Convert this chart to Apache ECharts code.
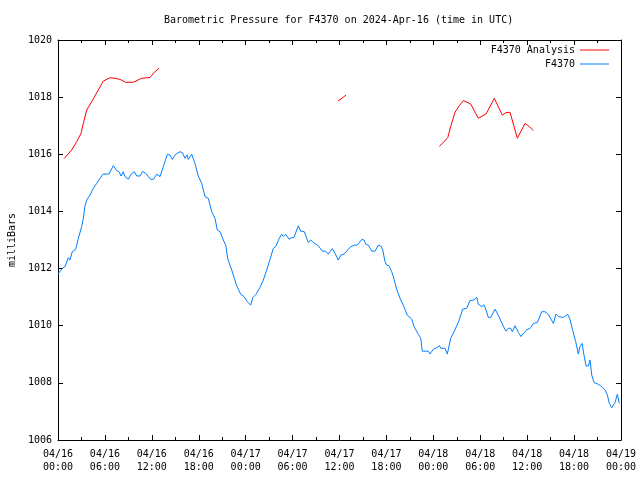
<!DOCTYPE html>
<html><head><meta charset="utf-8">
<script src="https://cdn.jsdelivr.net/npm/echarts@6/dist/echarts.min.js"></script>
<style>html,body{margin:0;padding:0;background:#fff}#c{width:640px;height:480px}</style>
</head><body><div id="c"></div>
<script>
// Hours since 2024-04-16 00:00 UTC
var tickDates = ['04/16','04/16','04/16','04/16','04/17','04/17','04/17','04/17','04/18','04/18','04/18','04/18','04/19'];
var tickTimes = ['00:00','06:00','12:00','18:00','00:00','06:00','12:00','18:00','00:00','06:00','12:00','18:00','00:00'];

var obsHours = [0,0.55,0.9,1.32,1.53,1.83,2.26,2.6,3.03,3.24,3.45,3.67,4.09,4.51,4.95,5.37,5.79,6.52,7.07,7.51,7.8,8.06,8.35,8.57,8.99,9.34,9.76,10.07,10.49,10.83,11.22,11.86,12.19,12.62,13.05,13.47,13.98,14.32,14.62,15.05,15.6,15.9,16.24,16.5,16.66,17.1,17.52,17.94,18.38,18.8,19.22,19.66,20.08,20.37,20.72,21.14,21.45,21.7,21.87,22.22,22.55,22.85,23.37,23.79,24.21,24.65,24.9,25.32,25.83,26.26,26.69,27.11,27.54,27.84,28.3,28.61,28.81,29.12,29.54,29.89,30.18,30.73,31.04,31.5,32.01,32.32,32.65,33.29,33.8,34.19,34.37,34.57,35.08,35.43,35.85,36.16,36.58,37.34,37.86,38.28,38.84,39.14,39.36,39.69,40.12,40.54,40.96,41.27,41.53,41.82,42.04,42.33,42.68,42.88,43.32,43.74,44.16,44.67,45.24,45.53,46.08,46.39,46.59,47.36,47.58,48.0,48.43,48.77,48.94,49.49,49.79,50.22,50.65,51.2,51.76,52.27,52.69,53.2,53.55,53.75,54.19,54.48,54.74,55.03,55.34,55.89,56.11,56.4,56.87,57.3,57.59,57.9,58.1,58.45,58.87,59.21,59.6,59.94,60.45,60.79,61.3,61.86,62.28,62.71,63.35,63.69,63.99,64.63,65.19,65.48,65.83,66.21,66.54,66.76,67.02,67.27,67.53,67.82,68.04,68.26,68.55,69.1,69.54,69.96,70.25,70.51,70.81,71.24,71.53,71.79];
var obsValues = [1011.81,1012.01,1012.07,1012.38,1012.3,1012.59,1012.67,1013.06,1013.47,1013.76,1014.19,1014.4,1014.57,1014.81,1014.98,1015.16,1015.31,1015.31,1015.6,1015.43,1015.39,1015.24,1015.39,1015.22,1015.13,1015.3,1015.39,1015.24,1015.24,1015.4,1015.33,1015.12,1015.12,1015.3,1015.22,1015.57,1016.0,1015.97,1015.82,1016.0,1016.09,1016.06,1015.86,1015.98,1015.82,1016.0,1015.68,1015.24,1014.98,1014.52,1014.46,1013.99,1013.76,1013.35,1013.29,1013.0,1012.82,1012.36,1012.21,1011.95,1011.66,1011.4,1011.1,1011.02,1010.84,1010.72,1010.98,1011.1,1011.34,1011.6,1011.95,1012.32,1012.71,1012.77,1013.06,1013.2,1013.12,1013.2,1013.03,1013.08,1013.09,1013.5,1013.31,1013.29,1012.91,1013.0,1012.91,1012.8,1012.61,1012.61,1012.68,1012.51,1012.7,1012.53,1012.3,1012.47,1012.51,1012.74,1012.82,1012.82,1013.02,1013.0,1012.85,1012.82,1012.61,1012.61,1012.82,1012.79,1012.65,1012.24,1012.12,1012.1,1011.89,1011.72,1011.27,1010.96,1010.72,1010.37,1010.23,1009.97,1009.7,1009.56,1009.11,1009.11,1009.01,1009.18,1009.23,1009.3,1009.21,1009.21,1009.01,1009.56,1009.79,1010.12,1010.58,1010.61,1010.88,1010.9,1011.0,1010.75,1010.67,1010.73,1010.55,1010.29,1010.29,1010.58,1010.58,1010.32,1010.02,1009.81,1009.91,1009.91,1009.79,1010.0,1009.77,1009.62,1009.76,1009.85,1009.93,1010.08,1010.11,1010.49,1010.49,1010.4,1010.08,1010.41,1010.32,1010.29,1010.4,1010.22,1009.83,1009.44,1009.01,1009.27,1009.38,1008.97,1008.59,1008.59,1008.8,1008.27,1008.01,1007.95,1007.87,1007.75,1007.58,1007.28,1007.13,1007.31,1007.6,1007.28];

var anaHours1 = [0.81,1.75,2.39,2.94,3.24,3.67,4.31,5.15,5.79,6.65,7.29,7.93,8.66,9.63,10.7,11.77,12.32,12.92];
var anaValues1 = [1015.86,1016.15,1016.44,1016.73,1017.08,1017.55,1017.84,1018.25,1018.56,1018.68,1018.66,1018.62,1018.52,1018.52,1018.66,1018.69,1018.87,1019.01];
var anaHours2 = [35.81,36.83];
var anaValues2 = [1017.86,1018.07];
var anaHours3 = [48.77,49.84,50.22,50.77,51.32,51.84,52.78,53.75,54.74,55.8,56.82,57.3,57.81,58.74,59.73,60.28,60.79];
var anaValues3 = [1016.27,1016.58,1016.97,1017.47,1017.7,1017.88,1017.76,1017.26,1017.41,1017.96,1017.37,1017.46,1017.47,1016.56,1017.08,1016.97,1016.83];

function pairs(h, v) { return h.map(function (x, i) { return [x, v[i]]; }); }
var anaData = pairs(anaHours1, anaValues1).concat([[24, '-']], pairs(anaHours2, anaValues2), [[42, '-']], pairs(anaHours3, anaValues3));
var obsData = pairs(obsHours, obsValues);

var FONT = 'DejaVu Sans Mono';
var FS = 10;
var txt = {fontFamily: FONT, fontSize: FS, color: '#000'};

function xAx(pos, labels) {
  return {
    type: 'value', position: pos, min: 0, max: 72, interval: 6,
    axisLine: {show: true, onZero: false, lineStyle: {color: '#000', width: 1}},
    axisTick: {show: true, inside: true, length: 5, lineStyle: {color: '#000'}},
    minorTick: {show: true, splitNumber: 2, length: 3, lineStyle: {color: '#000'}},
    splitLine: {show: false},
    axisLabel: labels ? {show: true, margin: 8, fontFamily: FONT, fontSize: FS, color: '#000', lineHeight: 13,
      formatter: function (v) { var i = Math.round(v / 6); return tickDates[i] + '\n' + tickTimes[i]; }} : {show: false}
  };
}
function yAx(pos, labels) {
  return {
    type: 'value', position: pos, min: 1006, max: 1020, interval: 2,
    name: labels ? 'milliBars' : '', nameLocation: 'middle', nameRotate: 90, nameGap: 41,
    nameTextStyle: txt,
    axisLine: {show: true, onZero: false, lineStyle: {color: '#000', width: 1}},
    axisTick: {show: true, inside: true, length: 5, lineStyle: {color: '#000'}},
    splitLine: {show: false},
    axisLabel: labels ? {show: true, margin: 6, fontFamily: FONT, fontSize: FS, color: '#000',
      formatter: function (v) { return String(v); }} : {show: false}
  };
}

var chart = echarts.init(document.getElementById('c'), null, {renderer: 'canvas'});
chart.setOption({
  animation: false,
  backgroundColor: '#fff',
  title: {text: 'Barometric Pressure for F4370 on 2024-Apr-16 (time in UTC)', left: 164, top: 15, padding: 0,
    textStyle: {fontFamily: FONT, fontSize: FS, fontWeight: 'normal', color: '#000'}},
  legend: {orient: 'vertical', right: 31, top: 45, padding: 0, align: 'right', itemWidth: 29, itemHeight: 1, itemGap: 4,
    icon: 'rect', textStyle: txt,
    data: [{name: 'F4370 Analysis'}, {name: 'F4370'}]},
  grid: {left: 58, right: 19, top: 40, bottom: 40, containLabel: false, outerBoundsMode: 'none'},
  xAxis: [xAx('bottom', true), xAx('top', false)],
  yAxis: [yAx('left', true), yAx('right', false)],
  series: [
    {name: 'F4370 Analysis', type: 'line', data: anaData, showSymbol: false, symbol: 'none', connectNulls: false,
      lineStyle: {color: '#ff0000', width: 1}, itemStyle: {color: '#ff0000'}},
    {name: 'F4370', type: 'line', data: obsData, showSymbol: false, symbol: 'none',
      lineStyle: {color: '#0080ff', width: 1}, itemStyle: {color: '#0080ff'}}
  ]
});
</script></body></html>
